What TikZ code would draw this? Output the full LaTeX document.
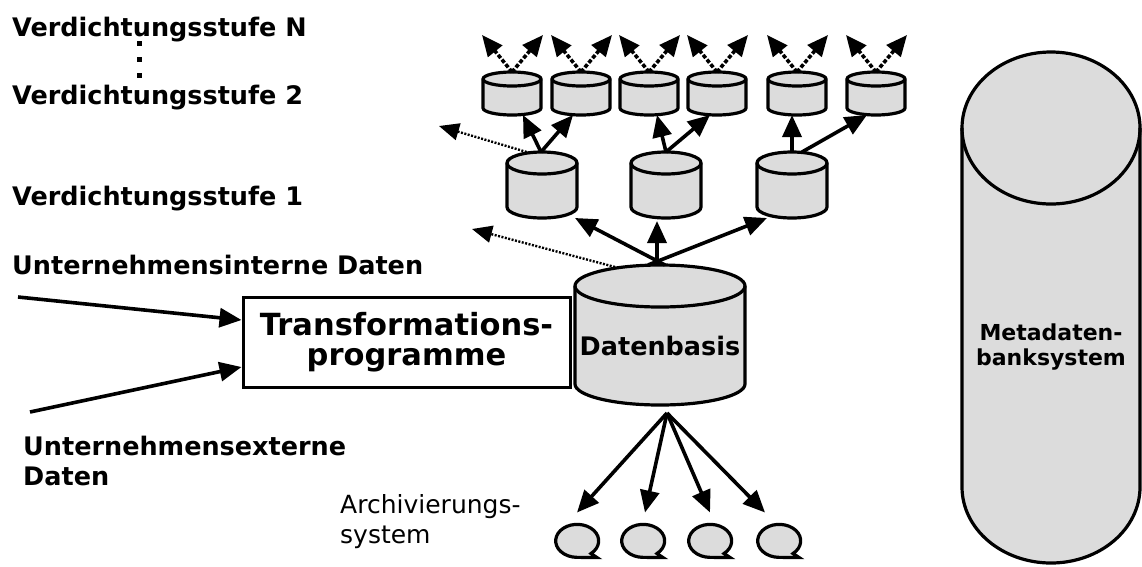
\documentclass[tikz,border=0pt]{standalone}
\usepackage{fontspec}
\setmainfont{DejaVu Sans}
\usetikzlibrary{arrows.meta}
\definecolor{cylgray}{RGB}{220,220,220}
\tikzset{
  cylline/.style={line width=3.2pt, fill=cylgray, draw=black},
  arr/.style={line width=3.6pt, -{Triangle[length=22pt,width=19pt]}},
  darr/.style={line width=3.6pt, dash pattern=on 4pt off 2pt, -{Triangle[length=21pt,width=18pt]}},
  tarr/.style={line width=2.4pt, dash pattern=on 2pt off 1.5pt, -{Triangle[length=20pt,width=17pt]}},
  lbl/.style={font=\bfseries\fontsize{25.5pt}{30pt}\selectfont, inner sep=0, anchor=base west},
  ghost/.style={inner sep=0, outer sep=0},
}
% name, cx, top, rx, ry, total height
\newcommand{\mkcyl}[6]{%
  \filldraw[cylline] ({#2-#4},{#3+#5}) -- ({#2-#4},{#3+#6-#5})
     arc[start angle=180,end angle=360,x radius=#4pt,y radius=#5pt]
     -- ({#2+#4},{#3+#5})
     arc[start angle=0,end angle=180,x radius=#4pt,y radius=#5pt] -- cycle;
  \draw[cylline, fill=none] ({#2-#4},{#3+#5}) arc[start angle=180,end angle=360,x radius=#4pt,y radius=#5pt];
  \node[ghost, minimum width={2*#4pt}, minimum height={#6pt}] (#1) at (#2,{#3+#6/2}) {};
}
% name, cx, cy
\newcommand{\mkbub}[3]{%
  \filldraw[cylline] ({#2+14},{#3+12.5}) arc[start angle=-50,end angle=270,x radius=21.5pt,y radius=16.5pt]
     -- ({#2+20},{#3+16.5}) -- cycle;
  \node[ghost, minimum width=43pt, minimum height=33pt] (#1) at (#2,#3) {};
}
\begin{document}
\begin{tikzpicture}[x=1pt,y=-1pt]
\useasboundingbox (0,0) rectangle (1142,566);

% labels
\node[lbl] (vN) at (12,36) {Verdichtungsstufe N};
\node[lbl] (v2) at (12,104) {Verdichtungsstufe 2};
\node[lbl] (v1) at (12,205) {Verdichtungsstufe 1};
\node[lbl] (ui) at (12,274) {Unternehmensinterne Daten};
\node[lbl, anchor=north west, align=left] (ue) at (23,436) {Unternehmensexterne\\Daten};
\fill (136.5,40.5) rectangle ++(5,5);
\fill (136.5,56.5) rectangle ++(5,5);
\fill (136.5,72.5) rectangle ++(5,5);

% metadata system
\mkcyl{meta}{1051}{52}{89}{76}{511}
\node[align=center, font=\bfseries\fontsize{22pt}{25pt}\selectfont] (mt) at (1051,347) {Metadaten-\\banksystem};

% Datenbasis
\mkcyl{db}{660}{265}{85}{21}{140}
\node[font=\bfseries\fontsize{25.5pt}{30pt}\selectfont, inner sep=0] (dbl) at (660,345.5) {Datenbasis};

% level 1
\mkcyl{la}{542}{152}{35}{11}{66}
\mkcyl{lb}{666}{152}{35}{11}{66}
\mkcyl{lc}{792}{152}{35}{11}{66}

% level 2
\mkcyl{c1}{512}{72}{29}{7}{43}
\mkcyl{c2}{581}{72}{29}{7}{43}
\mkcyl{c3}{649}{72}{29}{7}{43}
\mkcyl{c4}{717}{72}{29}{7}{43}
\mkcyl{c5}{797}{72}{29}{7}{43}
\mkcyl{c6}{876}{72}{29}{7}{43}

% top outgoing arrows
\foreach \n/\x in {c1/512,c2/581,c3/649,c4/717,c5/797,c6/876}{
  \coordinate (\n l) at (\x-30,35);
  \coordinate (\n r) at (\x+31,35);
  \draw[darr] (\n.north) -- (\n l);
  \draw[darr] (\n.north) -- (\n r);
}

% level 1 -> level 2
\draw[arr] ([xshift=-1pt]la.north) -- ([xshift=11pt]c1.south);
\draw[arr] ([xshift=-1pt]la.north) -- ([xshift=-8pt]c2.south);
\draw[arr] (lb.north) -- ([xshift=8pt]c3.south);
\draw[arr] (lb.north) -- ([xshift=-7pt]c4.south);
\draw[arr] (lc.north) -- ([xshift=-5pt]c5.south);
\draw[arr] ([xshift=10pt]lc.north) -- ([xshift=-9pt]c6.south);

% dotted side arrows
\coordinate (dl1) at (439,126);
\coordinate (dl0) at (472,229);
\draw[tarr] ([xshift=-12pt,yshift=-1pt]la.north) -- (dl1);
\draw[tarr] ([xshift=-45pt,yshift=-2pt]db.north) -- (dl0);

% Datenbasis -> level 1
\draw[arr] ([xshift=5pt]db.north) -- ([xshift=-2pt]la.south east);
\draw[arr] ([xshift=-3pt]db.north) -- ([xshift=-9pt,yshift=-3pt]lb.south);
\draw[arr] ([xshift=-12pt]db.north) -- ([xshift=10pt]lc.south west);

% Transformationsprogramme
\node[draw, line width=3pt, minimum width=327pt, minimum height=90pt, inner sep=0, align=center,
      font=\bfseries\fontsize{30.5pt}{30.5pt}\selectfont] (tp) at (406.5,342) {Transformations-\\programme};
\coordinate (in1) at (18,297);
\coordinate (in2) at (30,412);
\draw[arr] (in1) -- ([yshift=22pt]tp.west);
\draw[arr] (in2) -- ([yshift=-25pt]tp.west);

% archive
\mkbub{b1}{577}{541}
\mkbub{b2}{643}{541}
\mkbub{b3}{710}{541}
\mkbub{b4}{779}{541}
\draw[arr] ([xshift=7pt,yshift=-8pt]db.south) -- ([yshift=12pt]b1.north);
\draw[arr] ([xshift=7pt,yshift=-8pt]db.south) -- ([xshift=2pt,yshift=12pt]b2.north);
\draw[arr] ([xshift=7pt,yshift=-8pt]db.south) -- ([yshift=12pt]b3.north);
\draw[arr] ([xshift=7pt,yshift=-8pt]db.south) -- ([xshift=-14pt,yshift=12pt]b4.north);
\node[font=\fontsize{25pt}{30pt}\selectfont, inner sep=0, anchor=north west, align=left] (arch) at (340,494) {Archivierungs-\\system};
\end{tikzpicture}
\end{document}
